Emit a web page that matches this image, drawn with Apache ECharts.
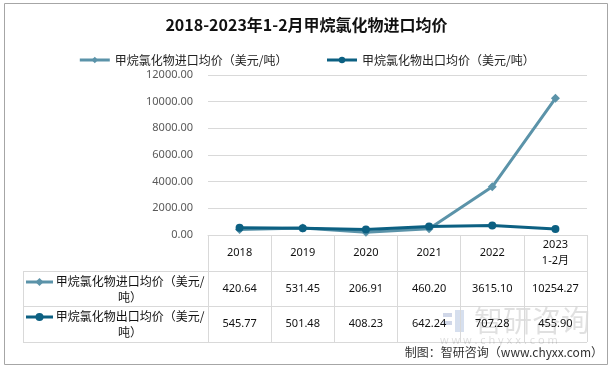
<!DOCTYPE html>
<html><head><meta charset="utf-8">
<script src="https://cdn.jsdelivr.net/npm/echarts@6/dist/echarts.min.js"></script>
<style>html,body{margin:0;padding:0;background:#fff}#c{width:613px;height:370px}</style>
</head><body><div id="c"></div>
<script>
var categories = ['2018','2019','2020','2021','2022','2023\n1-2月'];
var importVals = [420.64, 531.45, 206.91, 460.20, 3615.10, 10254.27];
var exportVals = [545.77, 501.48, 408.23, 642.24, 707.28, 455.90];
var seriesNames = ['甲烷氯化物进口均价（美元/吨）', '甲烷氯化物出口均价（美元/吨）'];
var yTicks = [0, 2000, 4000, 6000, 8000, 10000, 12000];

var cImp = '#5b93a9', cExp = '#0c6082';
var F = '"Noto Sans", "Noto Sans CJK SC", sans-serif';
var chart = echarts.init(document.getElementById('c'), null, {renderer:'canvas'});
function fmt(v){return v.toFixed(2);}
var lineC = '#d9d9d9';
var option = {
  animation:false,
  textStyle:{fontFamily:F},
  title:{text:'2018-2023年1-2月甲烷氯化物进口均价', left:'center', top:12,
    textStyle:{fontSize:16, fontWeight:'bold', color:'#111', fontFamily:'"Noto Sans CJK SC", sans-serif'}},
  legend:{top:49, left:'center', itemGap:38, itemWidth:30, itemHeight:8,
    lineStyle:{width:3},
    textStyle:{fontSize:12, color:'#222', fontFamily:'"Noto Sans CJK SC", sans-serif'},
    data:seriesNames},
  grid:{left:208, right:26, top:75, bottom:135, containLabel:false},
  xAxis:[
    {type:'category', data:categories, boundaryGap:true,
     axisLine:{lineStyle:{color:lineC}},
     axisTick:{show:true, length:107, interval:0, lineStyle:{color:lineC}},
     axisLabel:{margin:18, verticalAlign:'middle', lineHeight:16, color:'#111', fontSize:11, interval:0}},
    {type:'category', data:importVals.map(fmt), position:'bottom', offset:0,
     axisLine:{show:false}, axisTick:{show:false},
     axisLabel:{margin:54, verticalAlign:'middle', color:'#111', fontSize:11, interval:0}},
    {type:'category', data:exportVals.map(fmt), position:'bottom', offset:0,
     axisLine:{show:false}, axisTick:{show:false},
     axisLabel:{margin:89, verticalAlign:'middle', color:'#111', fontSize:11, interval:0}}
  ],
  yAxis:{type:'value', min:yTicks[0], max:yTicks[yTicks.length-1], interval:2000,
    axisLine:{show:false}, axisTick:{show:false},
    splitLine:{lineStyle:{color:lineC}},
    axisLabel:{margin:15, color:'#595959', fontSize:11, formatter:function(v){return v.toFixed(2);}}},
  series:[
    {name:seriesNames[0], type:'line', data:importVals, symbol:'diamond', symbolSize:9,
     lineStyle:{width:3, color:cImp}, itemStyle:{color:cImp}, z:2},
    {name:seriesNames[1], type:'line', data:exportVals, symbol:'circle', symbolSize:8,
     lineStyle:{width:3, color:cExp}, itemStyle:{color:cExp}, z:3}
  ],
  graphic:[
    {type:'rect', shape:{x:4.5, y:3.5, width:603, height:361}, style:{fill:'none', stroke:'#a6a6a6', lineWidth:1}, silent:true},
    {type:'line', shape:{x1:23, y1:271.5, x2:587, y2:271.5}, style:{stroke:lineC, lineWidth:1}},
    {type:'line', shape:{x1:23, y1:306.5, x2:587, y2:306.5}, style:{stroke:lineC, lineWidth:1}},
    {type:'line', shape:{x1:23, y1:342.5, x2:587, y2:342.5}, style:{stroke:lineC, lineWidth:1}},
    {type:'line', shape:{x1:23.5, y1:271.5, x2:23.5, y2:342.5}, style:{stroke:lineC, lineWidth:1}},
    // row labels
    {type:'line', shape:{x1:26, y1:282, x2:53, y2:282}, style:{stroke:cImp, lineWidth:3}},
    {type:'polygon', shape:{points:[[39.5,278],[43.5,282],[39.5,286],[35.5,282]]}, style:{fill:cImp}},
    {type:'text', style:{text:'甲烷氯化物进口均价（美元/\n吨）', x:130, y:289, align:'center', verticalAlign:'middle', lineHeight:16, fontSize:12, fill:'#111', fontFamily:'"Noto Sans CJK SC", sans-serif'}},
    {type:'line', shape:{x1:26, y1:317, x2:53, y2:317}, style:{stroke:cExp, lineWidth:3}},
    {type:'circle', shape:{cx:39.5, cy:317, r:4}, style:{fill:cExp}},
    {type:'text', style:{text:'甲烷氯化物出口均价（美元/\n吨）', x:130, y:324, align:'center', verticalAlign:'middle', lineHeight:16, fontSize:12, fill:'#111', fontFamily:'"Noto Sans CJK SC", sans-serif'}},
    // watermark
    {type:'rect', shape:{x:443, y:313, width:9, height:4}, style:{fill:'rgba(120,140,190,0.35)'}},
    {type:'rect', shape:{x:443, y:321, width:9, height:4}, style:{fill:'rgba(120,140,190,0.35)'}},
    {type:'rect', shape:{x:455, y:310, width:9, height:22}, style:{fill:'rgba(120,150,200,0.3)'}},
    {type:'text', style:{text:'智研咨询', x:474, y:321, verticalAlign:'middle', fontSize:29, fill:'rgba(0,0,0,0.12)', fontFamily:'"Noto Sans CJK SC", sans-serif'}},
    {type:'text', style:{text:'w w w . c h y x x . c o m', x:440, y:341, verticalAlign:'middle', fontSize:11, fill:'rgba(0,0,0,0.13)', fontFamily:F}},
    // source
    {type:'text', style:{text:'制图：智研咨询（www.chyxx.com）', x:603, y:352, align:'right', verticalAlign:'middle', fontSize:12, fill:'#333', fontFamily:'"Noto Sans CJK SC", sans-serif'}}
  ]
};
chart.setOption(option);
</script></body></html>
